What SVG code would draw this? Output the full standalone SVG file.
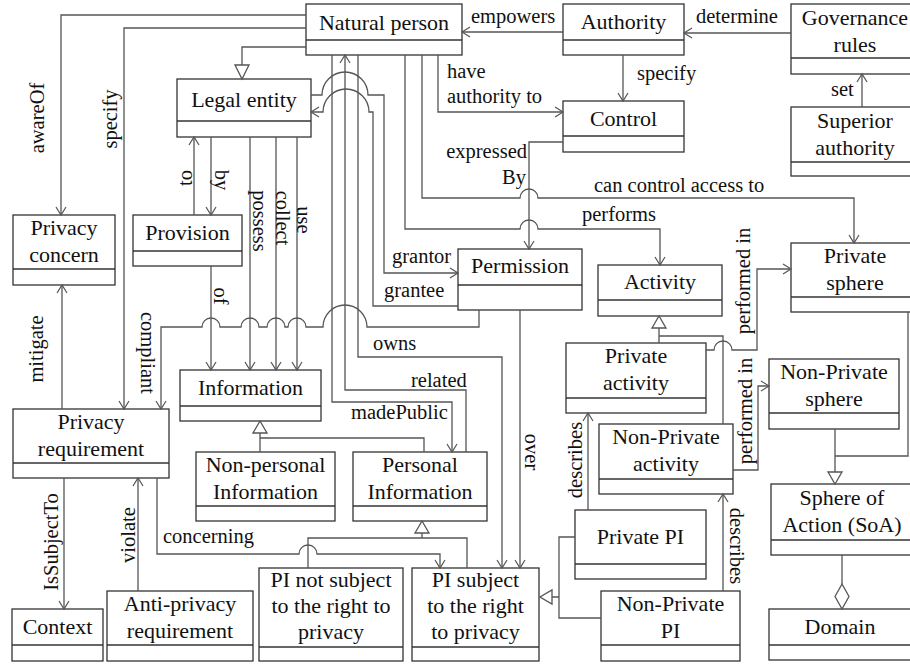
<svg xmlns="http://www.w3.org/2000/svg" width="910" height="665" viewBox="0 0 910 665">
<style>
.box{fill:#fff;stroke:#333;stroke-width:1.3}
.div{stroke:#333;stroke-width:1.3}
.n{font-family:"Liberation Serif","Times New Roman",serif;font-size:22px;fill:#111;text-anchor:middle}
.l{font-family:"Liberation Serif","Times New Roman",serif;font-size:20.5px;fill:#111}
.c{fill:none;stroke:#555;stroke-width:1.3}
.a{marker-end:url(#arr)}
.tri{fill:#fff;stroke:#555;stroke-width:1.3}
.r{text-anchor:middle}
</style>
<defs>
<marker id="arr" viewBox="0 0 8 10" refX="8" refY="5" markerWidth="8" markerHeight="10" orient="auto" markerUnits="userSpaceOnUse" overflow="visible">
<path d="M0,0 L8,5 L0,10" fill="none" stroke="#555" stroke-width="1.2"/>
</marker>
</defs>
<rect width="910" height="665" fill="#fff"/>

<g id="nodes">
<g id="natural-person"><rect class="box" x="306" y="4" width="156" height="51"/><line class="div" x1="306" y1="40" x2="462" y2="40"/><text class="n" x="384" y="30">Natural person</text></g>
<g id="authority"><rect class="box" x="563" y="4" width="121" height="51"/><line class="div" x1="563" y1="40" x2="684" y2="40"/><text class="n" x="623.5" y="29">Authority</text></g>
<g id="governance-rules"><rect class="box" x="791" y="4" width="128" height="70"/><line class="div" x1="791" y1="58" x2="919" y2="58"/><text class="n" x="855" y="25">Governance</text><text class="n" x="855" y="52">rules</text></g>
<g id="superior-authority"><rect class="box" x="791" y="107" width="128" height="69"/><line class="div" x1="791" y1="162" x2="919" y2="162"/><text class="n" x="855" y="128">Superior</text><text class="n" x="855" y="155">authority</text></g>
<g id="control"><rect class="box" x="563" y="101" width="121" height="51"/><line class="div" x1="563" y1="136" x2="684" y2="136"/><text class="n" x="623.5" y="126">Control</text></g>
<g id="legal-entity"><rect class="box" x="177" y="79" width="134" height="58"/><line class="div" x1="177" y1="121" x2="311" y2="121"/><text class="n" x="244" y="107">Legal entity</text></g>
<g id="privacy-concern"><rect class="box" x="13" y="215" width="102" height="70"/><line class="div" x1="13" y1="269" x2="115" y2="269"/><text class="n" x="64" y="235">Privacy</text><text class="n" x="64" y="262">concern</text></g>
<g id="provision"><rect class="box" x="133" y="215" width="109" height="51"/><line class="div" x1="133" y1="251" x2="242" y2="251"/><text class="n" x="187.5" y="240">Provision</text></g>
<g id="information"><rect class="box" x="180" y="370" width="141" height="51"/><line class="div" x1="180" y1="406" x2="321" y2="406"/><text class="n" x="250.5" y="395">Information</text></g>
<g id="privacy-requirement"><rect class="box" x="13" y="409" width="156" height="69"/><line class="div" x1="13" y1="463" x2="169" y2="463"/><text class="n" x="91" y="429">Privacy</text><text class="n" x="91" y="456">requirement</text></g>
<g id="permission"><rect class="box" x="458" y="249" width="124" height="61"/><line class="div" x1="458" y1="285" x2="582" y2="285"/><text class="n" x="520" y="273">Permission</text></g>
<g id="activity"><rect class="box" x="598" y="265" width="124" height="51"/><line class="div" x1="598" y1="300" x2="722" y2="300"/><text class="n" x="660" y="289">Activity</text></g>
<g id="private-sphere"><rect class="box" x="791" y="243" width="128" height="69"/><line class="div" x1="791" y1="297" x2="919" y2="297"/><text class="n" x="855" y="263">Private</text><text class="n" x="855" y="290">sphere</text></g>
<g id="private-activity"><rect class="box" x="566" y="343" width="140" height="70"/><line class="div" x1="566" y1="398" x2="706" y2="398"/><text class="n" x="636" y="363">Private</text><text class="n" x="636" y="390">activity</text></g>
<g id="non-private-sphere"><rect class="box" x="769" y="359" width="130" height="70"/><line class="div" x1="769" y1="413" x2="899" y2="413"/><text class="n" x="834" y="379">Non-Private</text><text class="n" x="834" y="406">sphere</text></g>
<g id="non-private-activity"><rect class="box" x="599" y="424" width="134" height="70"/><line class="div" x1="599" y1="479" x2="733" y2="479"/><text class="n" x="666" y="444">Non-Private</text><text class="n" x="666" y="471">activity</text></g>
<g id="sphere-of-action"><rect class="box" x="771" y="484" width="142" height="71"/><line class="div" x1="771" y1="540" x2="913" y2="540"/><text class="n" x="842" y="505">Sphere of</text><text class="n" x="842" y="532">Action (SoA)</text></g>
<g id="domain"><rect class="box" x="769" y="609" width="142" height="51"/><line class="div" x1="769" y1="645" x2="911" y2="645"/><text class="n" x="840" y="634">Domain</text></g>
<g id="private-pi"><rect class="box" x="575" y="510" width="131" height="69"/><line class="div" x1="575" y1="564" x2="706" y2="564"/><text class="n" x="640.5" y="544">Private PI</text></g>
<g id="non-private-pi"><rect class="box" x="601" y="591" width="139" height="70"/><line class="div" x1="601" y1="645" x2="740" y2="645"/><text class="n" x="670.5" y="611">Non-Private</text><text class="n" x="670.5" y="638">PI</text></g>
<g id="pi-subject"><rect class="box" x="412" y="568" width="127" height="93"/><line class="div" x1="412" y1="647" x2="539" y2="647"/><text class="n" x="475.5" y="587">PI subject</text><text class="n" x="475.5" y="613">to the right</text><text class="n" x="475.5" y="639">to privacy</text></g>
<g id="pi-not-subject"><rect class="box" x="259" y="568" width="144" height="93"/><line class="div" x1="259" y1="647" x2="403" y2="647"/><text class="n" x="331" y="587">PI not subject</text><text class="n" x="331" y="613">to the right to</text><text class="n" x="331" y="639">privacy</text></g>
<g id="context"><rect class="box" x="12" y="609" width="91" height="52"/><line class="div" x1="12" y1="645" x2="103" y2="645"/><text class="n" x="57.5" y="634">Context</text></g>
<g id="anti-privacy-requirement"><rect class="box" x="107" y="591" width="146" height="70"/><line class="div" x1="107" y1="645" x2="253" y2="645"/><text class="n" x="180" y="611">Anti-privacy</text><text class="n" x="180" y="638">requirement</text></g>
<g id="non-personal-information"><rect class="box" x="196" y="452" width="139" height="69"/><line class="div" x1="196" y1="506" x2="335" y2="506"/><text class="n" x="265.5" y="472">Non-personal</text><text class="n" x="265.5" y="499">Information</text></g>
<g id="personal-information"><rect class="box" x="353" y="452" width="134" height="69"/><line class="div" x1="353" y1="506" x2="487" y2="506"/><text class="n" x="420" y="472">Personal</text><text class="n" x="420" y="499">Information</text></g>
</g>

<g id="connectors">
<path class="c a" d="M563,32 H462"/>
<path class="c a" d="M791,33 H684"/>
<path class="c a" d="M623,55 V101"/>
<path class="c a" d="M862,107 V74"/>
<path class="c a" d="M438,55 V112 H563"/>
<path class="c a" d="M306,15 H61 V215"/>
<path class="c a" d="M306,28 H124 V409"/>
<path class="c" d="M306,47 H242 V65"/>
<polygon class="tri" points="235,65 249,65 242,79"/>
<path class="c a" d="M194,215 V137"/>
<path class="c a" d="M211,137 V215"/>
<path class="c a" d="M211,266 V370"/>
<path class="c a" d="M250,137 V370"/>
<path class="c a" d="M276,137 V370"/>
<path class="c a" d="M297,137 V370"/>
<path class="c a" d="M311,95 H322 A23,23 0 0 1 368,95 H384 V273 H458"/>
<path class="c a" d="M458,306 H373 V112 H369 A23,23 0 0 0 323,112 H311"/>
<path class="c a" d="M479,310 V327 H367 A22,22 0 0 0 323,327 H306 A9,9 0 0 0 288,327 H285 A9,9 0 0 0 267,327 H259 A9,9 0 0 0 241,327 H220 A9,9 0 0 0 202,327 H161 V409"/>
<path class="c a" d="M422,55 V198 H520 A9,9 0 0 1 538,198 H854 V243"/>
<path class="c a" d="M405,55 V229 H520 A9,9 0 0 1 538,229 H660 V265"/>
<path class="c a" d="M563,142 H529 V249"/>
<path class="c a" d="M332,55 V402 H452 V452"/>
<path class="c a" d="M466,452 V390 H345 V55"/>
<path class="c a" d="M358,55 V357 H502 V568"/>
<path class="c a" d="M520,310 V568"/>
<path class="c a" d="M62,409 V285"/>
<path class="c a" d="M64,478 V609"/>
<path class="c a" d="M138,591 V478"/>
<path class="c a" d="M157,478 V554 H299 A9,9 0 0 1 317,554 H440 V568"/>
<path class="c" d="M260,433 V452 M260,438 H424 V452"/>
<polygon class="tri" points="253,433 267,433 260,421"/>
<path class="c" d="M422,533 V538 M308,568 V538 H467 V568"/>
<polygon class="tri" points="415,533 429,533 422,521"/>
<path class="c" d="M659,328 V343 M659,336 H723 V424"/>
<polygon class="tri" points="652,328 666,328 659,316"/>
<path class="c a" d="M706,350 H714 A9,9 0 0 1 732,350 H757 V269 H791"/>
<path class="c a" d="M733,470 H758 V386 H769"/>
<path class="c" d="M835,472 V429 M835,456 H908 V312"/>
<polygon class="tri" points="828,472 842,472 835,484"/>
<path class="c" d="M552,597 H559 M575,537 H559 V618 H601"/>
<polygon class="tri" points="552,590 552,604 540,597"/>
<path class="c a" d="M588,510 V413"/>
<path class="c a" d="M723,591 V494"/>
<path class="c" d="M842,555 V584"/>
<polygon class="tri" points="842,584 849,596.5 842,609 835,596.5"/>
</g>

<g id="connector-labels">
<text class="l" x="471" y="23">empowers</text>
<text class="l" x="696" y="23">determine</text>
<text class="l" x="637" y="80">specify</text>
<text class="l" x="831" y="96">set</text>
<text class="l" x="447" y="78">have</text>
<text class="l" x="447" y="103">authority to</text>
<text class="l" x="527" y="158" text-anchor="end">expressed</text>
<text class="l" x="526" y="184" text-anchor="end">By</text>
<text class="l" x="594" y="192">can control access to</text>
<text class="l" x="582" y="221">performs</text>
<text class="l" x="392" y="263">grantor</text>
<text class="l" x="384" y="297">grantee</text>
<text class="l" x="373" y="350">owns</text>
<text class="l" x="411" y="387">related</text>
<text class="l" x="351" y="419">madePublic</text>
<text class="l" x="163" y="543">concerning</text>
<text class="l r" transform="translate(743,281) rotate(-90)" dy="0.35em">performed in</text>
<text class="l r" transform="translate(745,411) rotate(-90)" dy="0.35em">performed in</text>
<text class="l r" transform="translate(575,460) rotate(-90)" dy="0.35em">describes</text>
<text class="l r" transform="translate(737,546) rotate(90)" dy="0.35em">describes</text>
<text class="l r" transform="translate(532,452) rotate(90)" dy="0.35em">over</text>
<text class="l r" transform="translate(148,353) rotate(90)" dy="0.35em">compliant</text>
<text class="l r" transform="translate(37,118) rotate(-90)" dy="0.35em">awareOf</text>
<text class="l r" transform="translate(110,119) rotate(-90)" dy="0.35em">specify</text>
<text class="l r" transform="translate(36,349) rotate(-90)" dy="0.35em">mitigate</text>
<text class="l r" transform="translate(51,542) rotate(-90)" dy="0.35em">IsSubjectTo</text>
<text class="l r" transform="translate(128,535) rotate(-90)" dy="0.35em">violate</text>
<text class="l r" transform="translate(185,178) rotate(-90)" dy="0.35em">to</text>
<text class="l r" transform="translate(222,180) rotate(90)" dy="0.35em">by</text>
<text class="l r" transform="translate(221,296) rotate(90)" dy="0.35em">of</text>
<text class="l r" transform="translate(260,221) rotate(90)" dy="0.35em">possess</text>
<text class="l r" transform="translate(283,218) rotate(90)" dy="0.35em">collect</text>
<text class="l r" transform="translate(304,220) rotate(90)" dy="0.35em">use</text>
</g>
</svg>
